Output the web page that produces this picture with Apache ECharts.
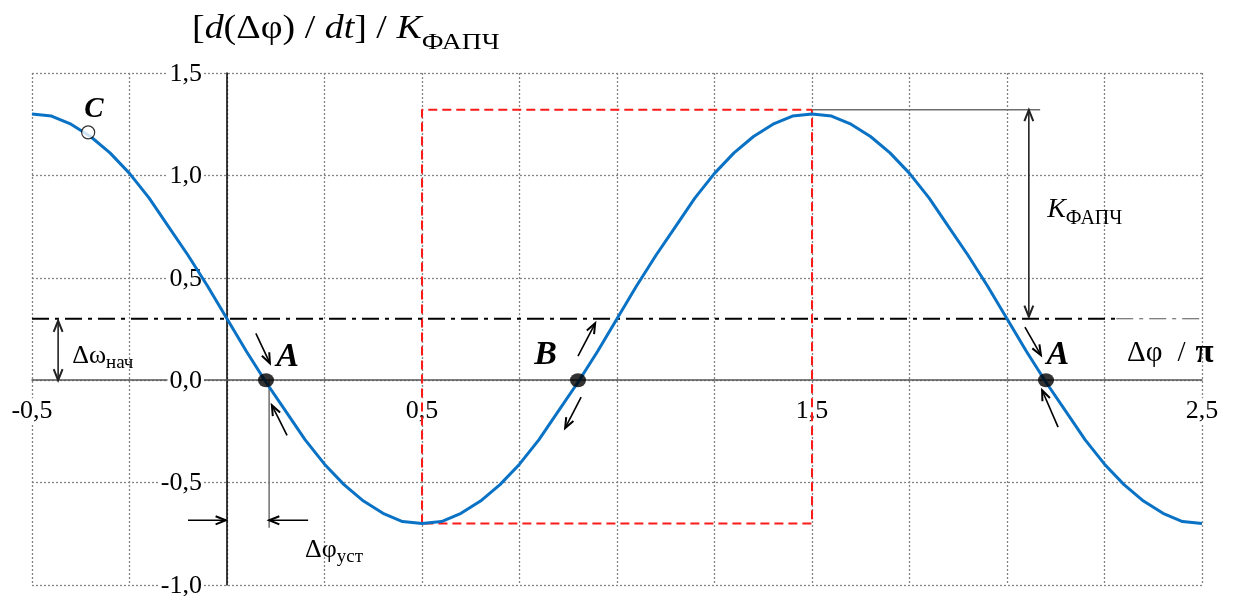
<!DOCTYPE html>
<html>
<head>
<meta charset="utf-8">
<title>ФАПЧ: фазовый портрет</title>
<script src="https://cdn.jsdelivr.net/npm/echarts@6/dist/echarts.min.js"></script>
<style>
  html, body { margin: 0; padding: 0; background: #fff; }
  #chart { width: 1239px; height: 596px; }
</style>
</head>
<body>
<div id="chart"></div>
<script>
// Phase error Δφ (in units of π) and normalised rate d(Δφ)/dt / K_ФАПЧ
const phase = [
  -0.5, -0.45, -0.4, -0.35, -0.3, -0.25, -0.2, -0.15, -0.1, -0.05,
  0, 0.05, 0.1, 0.15, 0.2, 0.25, 0.3, 0.35, 0.4, 0.45,
  0.5, 0.55, 0.6, 0.65, 0.7, 0.75, 0.8, 0.85, 0.9, 0.95,
  1.0, 1.05, 1.1, 1.15, 1.2, 1.25, 1.3, 1.35, 1.4, 1.45,
  1.5, 1.55, 1.6, 1.65, 1.7, 1.75, 1.8, 1.85, 1.9, 1.95,
  2.0, 2.05, 2.1, 2.15, 2.2, 2.25, 2.3, 2.35, 2.4, 2.45, 2.5
];
const rate = [
  1.30, 1.29, 1.25, 1.19, 1.11, 1.01, 0.89, 0.75, 0.61, 0.46,
  0.30, 0.14, -0.01, -0.15, -0.29, -0.41, -0.51, -0.59, -0.65, -0.69,
  -0.70, -0.69, -0.65, -0.59, -0.51, -0.41, -0.29, -0.15, -0.01, 0.14,
  0.30, 0.46, 0.61, 0.75, 0.89, 1.01, 1.11, 1.19, 1.25, 1.29,
  1.30, 1.29, 1.25, 1.19, 1.11, 1.01, 0.89, 0.75, 0.61, 0.46,
  0.30, 0.14, -0.01, -0.15, -0.29, -0.41, -0.51, -0.59, -0.65, -0.69, -0.70
];

// Initial detuning level Δω_нач
const detuning = 0.3;
const detuningBreak = 2.28;
// One period of the curve framed from its minimum to its maximum
const boxPhase = [0.5, 1.5];
const boxRate = [-0.70, 1.32];

// Equilibrium points: A — stable, B — unstable; C — start point
const stablePoints = [[0.1, 0], [2.1, 0]];
const unstablePoints = [[0.9, 0]];
const startPoint = [[-0.356, 1.21]];

// Tick labels, written next to the axes crossing at zero
const xLabelValues = [-0.5, 0.5, 1.5, 2.5];
const yTickValues = [-1.0, -0.5, 0.0, 0.5, 1.0, 1.5];

// Motion arrows along the curve: [x1, y1, x2, y2]
const motionArrows = [
  [0.074, 0.229, 0.110, 0.083],
  [0.154, -0.269, 0.115, -0.122],
  [0.900, 0.117, 0.944, 0.278],
  [0.908, -0.083, 0.867, -0.234],
  [2.046, 0.259, 2.087, 0.122],
  [2.131, -0.229, 2.090, -0.049]
];
// Double-headed dimension arrows: Δω_нач and K_ФАПЧ
const dimensionArrows = [
  [-0.433, 0.0, -0.433, 0.29],
  [2.056, 0.31, 2.056, 1.32]
];
// Steady-state phase error markers
const gapArrows = [
  [-0.10, -0.684, -0.003, -0.684],
  [0.208, -0.684, 0.108, -0.684]
];
// Thin extension lines
const guideLines = [
  [1.5, 1.32, 2.085, 1.32],
  [0.108, 0.0, 0.108, -0.72]
];

// Annotation anchors (left edge, vertical middle) and their texts
const noteAnchors = [
  [0.126, 0.110], [0.788, 0.120], [2.101, 0.120], [-0.366, 1.320],
  [-0.397, 0.117], [2.103, 0.835], [0.200, -0.830]
];
const noteTexts = [
  '{p|A}', '{p|B}', '{p|A}', '{c|C}',
  '{m|Δω}{s|нач}', '{k|K}{ks|ФАПЧ}', '{m|Δφ}{s|уст}'
];

const serif = "'Liberation Serif', 'Times New Roman', serif";
const comma = v => v.toFixed(1).replace('.', ',');

const noteRich = {
  p: { fontFamily: serif, fontSize: 34, fontWeight: 'bold', fontStyle: 'italic', color: '#000', lineHeight: 36 },
  c: { fontFamily: serif, fontSize: 29, fontWeight: 'bold', fontStyle: 'italic', color: '#000', lineHeight: 32 },
  m: { fontFamily: serif, fontSize: 26, color: '#000', lineHeight: 32, verticalAlign: 'middle' },
  s: { fontFamily: serif, fontSize: 19, color: '#000', lineHeight: 19, verticalAlign: 'bottom' },
  k: { fontFamily: serif, fontSize: 28, fontStyle: 'italic', color: '#000', lineHeight: 39, verticalAlign: 'middle' },
  ks: { fontFamily: serif, fontSize: 20, color: '#000', lineHeight: 20, verticalAlign: 'bottom' }
};

function arrowHead(from, to, len, spread, color, width) {
  const ang = Math.atan2(to[1] - from[1], to[0] - from[0]);
  const p1 = [to[0] - len * Math.cos(ang - spread), to[1] - len * Math.sin(ang - spread)];
  const p2 = [to[0] - len * Math.cos(ang + spread), to[1] - len * Math.sin(ang + spread)];
  return { type: 'polyline', shape: { points: [p1, to, p2] }, style: { stroke: color, lineWidth: width, fill: 'none' } };
}

function arrowRenderer(color, width, headLen, doubleHead) {
  return function (params, api) {
    const a = api.coord([api.value(0), api.value(1)]);
    const b = api.coord([api.value(2), api.value(3)]);
    const children = [
      { type: 'line', shape: { x1: a[0], y1: a[1], x2: b[0], y2: b[1] }, style: { stroke: color, lineWidth: width } },
      arrowHead(a, b, headLen, 0.38, color, width + 0.4)
    ];
    if (doubleHead) children.push(arrowHead(b, a, headLen, 0.38, color, width + 0.4));
    return { type: 'group', children };
  };
}

function segmentRenderer(params, api) {
  const a = api.coord([api.value(0), api.value(1)]);
  const b = api.coord([api.value(2), api.value(3)]);
  return { type: 'line', shape: { x1: a[0], y1: a[1], x2: b[0], y2: b[1] }, style: { stroke: '#6e6e6e', lineWidth: 1.5 } };
}

function noteRenderer(params, api) {
  const p = api.coord([api.value(0), api.value(1)]);
  return {
    type: 'text', x: p[0], y: p[1],
    style: { text: noteTexts[params.dataIndex], rich: noteRich, align: 'left', verticalAlign: 'middle', fontFamily: serif }
  };
}

// Tick label renderers: x labels under the zero line, y labels left of the zero line
const tickFont = { fontFamily: serif, fontSize: 26, fill: '#000', backgroundColor: '#fff', padding: [0, 2] };
function xTickRenderer(params, api) {
  const v = api.value(0);
  const p = api.coord([v, 0]);
  return { type: 'text', x: p[0], y: p[1] + 31,
    style: Object.assign({ text: comma(v), align: 'center', verticalAlign: 'middle' }, tickFont) };
}
function yTickRenderer(params, api) {
  const v = api.value(1);
  const p = api.coord([0, v]);
  return { type: 'text', x: p[0] - 23, y: p[1] + 1,
    style: Object.assign({ text: comma(v), align: 'right', verticalAlign: 'middle' }, tickFont) };
}

const splitStyle = { color: '#858585', type: [2, 2], width: 1.3 };

const chart = echarts.init(document.getElementById('chart'), null, { renderer: 'canvas' });
chart.setOption({
  animation: false,
  backgroundColor: '#fff',
  grid: { left: 32, top: 73, width: 1170, height: 512, containLabel: false, outerBoundsMode: 'none' },
  xAxis: {
    type: 'value', min: -0.5, max: 2.5, interval: 0.25,
    axisLine: { onZero: true, lineStyle: { color: '#555', width: 1.5 } },
    axisTick: { show: false },
    axisLabel: { show: false },
    splitLine: { show: true, lineStyle: splitStyle }
  },
  yAxis: {
    type: 'value', min: -1.0, max: 1.5, interval: 0.5,
    axisLine: { onZero: true, lineStyle: { color: '#000', width: 1.5 } },
    axisTick: { show: false },
    axisLabel: { show: false },
    splitLine: { show: true, lineStyle: splitStyle }
  },
  graphic: [
    {
      type: 'text', x: 192, y: 29, scaleX: 1.15, z: 10,
      style: {
        text: '{n|[}{i|d}{n|(Δφ) / }{i|dt}{n|] / }{i|K}{s|ФАПЧ}',
        verticalAlign: 'middle', align: 'left',
        rich: {
          n: { fontFamily: serif, fontSize: 33, color: '#000', lineHeight: 51, verticalAlign: 'middle' },
          i: { fontFamily: serif, fontSize: 33, fontStyle: 'italic', color: '#000', lineHeight: 51, verticalAlign: 'middle' },
          s: { fontFamily: serif, fontSize: 24, color: '#000', lineHeight: 24, verticalAlign: 'bottom' }
        }
      }
    },
    {
      type: 'text', x: 1127, y: 353, z: 10,
      style: {
        text: '{n|Δφ}{sl|/}{b|π}',
        verticalAlign: 'middle', align: 'left',
        rich: {
          n: { fontFamily: serif, fontSize: 29, color: '#000' },
          sl: { fontFamily: serif, fontSize: 29, color: '#000', padding: [0, 10, 0, 15] },
          b: { fontFamily: serif, fontSize: 33, fontWeight: 'bold', color: '#000' }
        }
      }
    }
  ],
  series: [
    {
      name: 'x ticks', type: 'custom', renderItem: xTickRenderer, silent: true, z: 1,
      data: xLabelValues.map(v => [v, 0])
    },
    {
      name: 'y ticks', type: 'custom', renderItem: yTickRenderer, silent: true, z: 1,
      data: yTickValues.map(v => [0, v])
    },
    {
      name: 'box', type: 'line', symbol: 'none', silent: true, z: 3,
      data: [
        [boxPhase[0], boxRate[0]], [boxPhase[0], boxRate[1]],
        [boxPhase[1], boxRate[1]], [boxPhase[1], boxRate[0]],
        [boxPhase[0], boxRate[0]]
      ],
      lineStyle: { color: '#ff1a1a', width: 2, type: [9, 5] }
    },
    {
      name: 'detuning', type: 'line', symbol: 'none', silent: true, z: 3,
      data: [[-0.5, detuning], [detuningBreak, detuning]],
      lineStyle: { color: '#000', width: 2.2, type: [17, 6, 4, 6] }
    },
    {
      name: 'detuning tail', type: 'line', symbol: 'none', silent: true, z: 3,
      data: [[detuningBreak, detuning], [2.5, detuning]],
      lineStyle: { color: '#555', width: 1.2, type: [17, 6, 4, 6] }
    },
    {
      name: 'guides', type: 'custom', renderItem: segmentRenderer, silent: true, z: 4,
      data: guideLines
    },
    {
      name: 'curve', type: 'line', symbol: 'none', smooth: false, z: 5,
      data: phase.map((x, i) => [x, rate[i]]),
      lineStyle: { color: '#0a72c4', width: 3 }
    },
    {
      name: 'motion', type: 'custom', renderItem: arrowRenderer('#000', 1.6, 11, false), silent: true, z: 6,
      data: motionArrows
    },
    {
      name: 'dimensions', type: 'custom', renderItem: arrowRenderer('#222', 1.6, 12, true), silent: true, z: 6,
      data: dimensionArrows
    },
    {
      name: 'gap', type: 'custom', renderItem: arrowRenderer('#000', 1.6, 11, false), silent: true, z: 6,
      data: gapArrows
    },
    {
      name: 'equilibrium', type: 'scatter', symbol: 'circle', symbolSize: [16, 14], z: 7,
      itemStyle: { color: '#000' },
      data: stablePoints.concat(unstablePoints)
    },
    {
      name: 'start', type: 'scatter', symbol: 'circle', symbolSize: 13, z: 7,
      itemStyle: { color: '#fff', borderColor: '#000', borderWidth: 1.2 },
      data: startPoint
    },
    {
      name: 'notes', type: 'custom', renderItem: noteRenderer, silent: true, z: 8,
      data: noteAnchors
    }
  ]
});
</script>
</body>
</html>
